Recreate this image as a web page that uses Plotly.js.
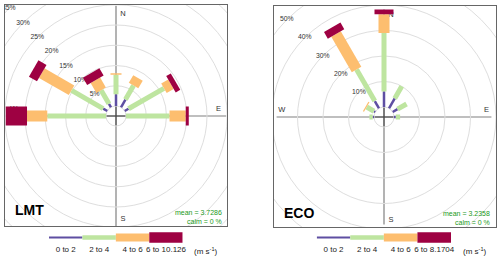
<!DOCTYPE html>
<html><head><meta charset="utf-8">
<script src="https://cdn.plot.ly/plotly-3.0.1.min.js"></script>
<style>
html,body{margin:0;padding:0;background:#fff;width:500px;height:259px;overflow:hidden;position:relative;}
#bg{position:absolute;left:0;top:0;width:500px;height:259px;}
.frame{position:absolute;box-sizing:border-box;border:1px solid #666;overflow:hidden;background:#fff;}
#f1{left:4px;top:4px;width:224px;height:223px;}
#f2{left:273px;top:5px;width:224px;height:223px;}
.rose{position:absolute;width:320px;height:320px;}
#p1{left:-49px;top:-49px;}
#p2{left:-50px;top:-49px;}
</style></head><body>
<div id="bg"></div>
<div class="frame" id="f1"><div class="rose" id="p1"></div></div>
<div class="frame" id="f2"><div class="rose" id="p2"></div></div>
<script>
// ---- data (percent of time, per wind-direction sector and speed class) ----
const directions = [270, 300, 330, 0, 30, 60, 90];
const speedBinsLMT = ["0 to 2", "2 to 4", "4 to 6", "6 to 10.126"];
const speedBinsECO = ["0 to 2", "2 to 4", "4 to 6", "6 to 8.1704"];
const lmt_0_2   = [0, 1.2, 1.0, 2.9, 2.2, 1.1, 0];
const lmt_2_4   = [14.5, 9.0, 3.9, 4.8, 4.0, 10.1, 10.75];
const lmt_4_6   = [5.0, 8.5, 2.8, 0.4, 2.2, 2.0, 4.0];
const lmt_6_max = [5.25, 2.3, 2.1, 0, 0, 1.3, 0.75];
const eco_0_2   = [0.5, 0.6, 3.3, 6.1, 4.5, 2.2, 0.7];
const eco_2_4   = [1.3, 3.3, 14.3, 22.9, 5.5, 4.1, 1.7];
const eco_4_6   = [0, 0.5, 16.1, 7.4, 0, 0, 0];
const eco_6_max = [0, 0, 3.0, 1.8, 0, 0, 0];
const lmtRings = [5, 10, 15, 20, 25, 30, 35];
const ecoRings = [10, 20, 30, 40, 50];
const compass = ["N", "E", "S", "W"];
const lmtMean = "3.7286", ecoMean = "3.2358", calmPct = "0 %";
const unitLabel = "(m s<sup>-1</sup>)";

// ---- styles ----
const FONT = "Liberation Sans, Arial, sans-serif";
const binColors = ["#5E4FA2", "#BEE5A0", "#FDBE6F", "#9E0142"];
const barWidths = [2.5, 5, 11, 19];
const keyWidths = [2, 4.5, 8, 10.5];
const SIZE = 320, R = 160, HOLE = 10;
// compass-letter offsets (px) from the centre: right of N/S axis, above E/W axis
const compassOffsets = [[7, -102], [102.5, -7], [7, 103], [-102.3, -7.2]];

function rose(divId, classes, rings, pxPerPct, dtick, site, mean, pos) {
  const rangeMax = (R - HOLE) / pxPerPct;
  const traces = [];
  traces.push({type: 'scatterpolar', mode: 'text', r: rings, theta: rings.map(() => 315),
    text: rings.map(v => v + '%'), textposition: 'middle center',
    textfont: {size: 6.8, color: '#333', family: FONT}, hoverinfo: 'skip', showlegend: false});
  // compass letters (drawn beneath the bars, as in the original)
  const cr = compassOffsets.map(o => (Math.hypot(o[0], o[1]) - HOLE) / pxPerPct);
  const ct = compassOffsets.map(o => (Math.atan2(o[0], -o[1]) * 180 / Math.PI + 360) % 360);
  traces.push({type: 'scatterpolar', mode: 'text', r: cr, theta: ct, text: compass, textposition: 'middle center',
    textfont: {size: 7.5, color: '#333', family: FONT}, hoverinfo: 'skip', showlegend: false});
  const cum = directions.map(() => 0);
  classes.forEach((vals, k) => {
    const r = [], th = [];
    vals.forEach((v, i) => {
      if (v > 0) { r.push(cum[i], cum[i] + v, null); th.push(directions[i], directions[i], null); }
      cum[i] += v;
    });
    traces.push({type: 'scatterpolar', mode: 'lines', r: r, theta: th, connectgaps: false,
      line: {color: binColors[k], width: barWidths[k]}, hoverinfo: 'skip', showlegend: false});
  });
  const maxPct = Math.max(...cum);
  const L = (HOLE + maxPct * pxPerPct) / SIZE;
  const h = HOLE / SIZE;
  const shapes = [
    {type: 'line', xref: 'paper', yref: 'paper', x0: 0.5, x1: 0.5, y0: 0.5 - L, y1: 0.5 + L, line: {color: '#808080', width: 1.2}, layer: 'below'},
    {type: 'line', xref: 'paper', yref: 'paper', x0: 0.5 - L, x1: 0.5 + L, y0: 0.5, y1: 0.5, line: {color: '#808080', width: 1.2}, layer: 'below'},
    {type: 'line', xref: 'paper', yref: 'paper', x0: 0.5, x1: 0.5, y0: 0.5 - h, y1: 0.5 + h, line: {color: '#444', width: 1}, layer: 'below'},
    {type: 'line', xref: 'paper', yref: 'paper', x0: 0.5 - h, x1: 0.5 + h, y0: 0.5, y1: 0.5, line: {color: '#444', width: 1}, layer: 'below'},
    {type: 'circle', xref: 'paper', yref: 'paper', x0: 0.5 - h, x1: 0.5 + h, y0: 0.5 - h, y1: 0.5 + h, line: {color: '#dedede', width: 1}, layer: 'below'}
  ];
  const px = dx => (R + dx) / SIZE, py = dy => 1 - (R + dy) / SIZE;
  const ann = (t, dx, dy, xa, size, color) => ({text: t, x: px(dx), y: py(dy), xref: 'paper', yref: 'paper',
    xanchor: xa, yanchor: 'middle', showarrow: false, font: {family: FONT, size: size, color: color}});
  const annotations = [];
  annotations.push(ann('<b>' + site + '</b>', pos.title[0], pos.title[1], 'left', 14, '#000'));
  annotations.push(ann('mean = ' + mean, pos.stat[0], pos.stat[1], 'right', 7, '#229922'));
  annotations.push(ann('calm = ' + calmPct, pos.stat[0], pos.stat[1] + 9.4, 'right', 7, '#229922'));
  const layout = {
    width: SIZE, height: SIZE, margin: {l: 0, r: 0, t: 0, b: 0}, paper_bgcolor: '#fff',
    polar: {domain: {x: [0, 1], y: [0, 1]}, hole: HOLE / R, bgcolor: 'rgba(0,0,0,0)',
      radialaxis: {range: [0, rangeMax], tick0: 0, dtick: dtick, showticklabels: false, ticks: '', showline: false,
        gridcolor: '#dedede', gridwidth: 1},
      angularaxis: {rotation: 90, direction: 'clockwise', showgrid: false, showline: false, ticks: '', showticklabels: false}},
    shapes: shapes, annotations: annotations, showlegend: false
  };
  Plotly.newPlot(divId, traces, layout, {staticPlot: true});
}

rose('p1', [lmt_0_2, lmt_2_4, lmt_4_6, lmt_6_max], lmtRings, 4.05, 5, 'LMT', lmtMean,
  {title: [-102.7, 93.5], stat: [108, 96.3]});
rose('p2', [eco_0_2, eco_2_4, eco_4_6, eco_6_max], ecoRings, 2.55, 10, 'ECO', ecoMean,
  {title: [-102.3, 95.6], stat: [108.3, 96]});

// ---- colour keys below the panels ----
const bgData = [];
function key(bins, xa, ya) {
  bins.forEach((_, k) => bgData.push({type: 'scatter', mode: 'lines', x: [k, k + 1], y: [0, 0], xaxis: xa, yaxis: ya,
    line: {color: binColors[k], width: keyWidths[k]}, hoverinfo: 'skip', showlegend: false}));
}
key(speedBinsLMT, 'x', 'y');
key(speedBinsECO, 'x2', 'y2');
const keyX = bins => ({range: [0, 4], tickvals: [0.5, 1.5, 2.5, 3.5], ticktext: bins, showgrid: false, zeroline: false,
  showline: false, ticks: '', tickfont: {family: FONT, size: 8, color: '#222'}, anchor: 'free', position: 0.06});
const keyY = {range: [-1, 1], domain: [0.02, 0.146], visible: false};
const unitAnn = x => ({text: unitLabel, x: x, y: 1 - 250.5 / 259, xref: 'paper', yref: 'paper', xanchor: 'left', yanchor: 'middle',
  showarrow: false, font: {family: FONT, size: 8, color: '#222'}});
Plotly.newPlot('bg', bgData, {
  width: 500, height: 259, margin: {l: 0, r: 0, t: 0, b: 0}, paper_bgcolor: '#fff', plot_bgcolor: 'rgba(0,0,0,0)',
  xaxis: Object.assign(keyX(speedBinsLMT), {domain: [0.098, 0.3654]}),
  yaxis: Object.assign({}, keyY),
  xaxis2: Object.assign(keyX(speedBinsECO), {domain: [0.6334, 0.902]}),
  yaxis2: Object.assign({}, keyY, {anchor: 'x2'}),
  annotations: [unitAnn(192 / 500), unitAnn(460.5 / 500)]
}, {staticPlot: true});
</script>
</body></html>
